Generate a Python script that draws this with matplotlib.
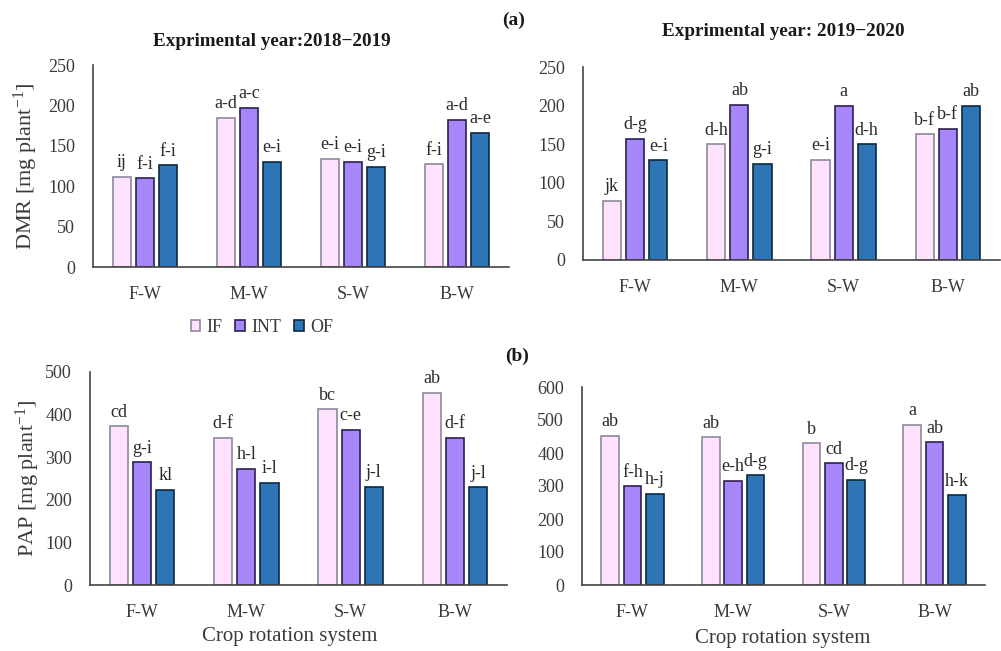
import matplotlib
matplotlib.use("Agg")
import matplotlib.pyplot as plt
from matplotlib.patches import Patch
import numpy as np

plt.rcParams['font.family'] = ['Liberation Serif', 'DejaVu Serif']
plt.rcParams['mathtext.fontset'] = 'custom'
plt.rcParams['mathtext.rm'] = 'Liberation Serif'
plt.rcParams['mathtext.it'] = 'Liberation Serif:italic'

W, H = 1001, 651

rotations = ["F-W", "M-W", "S-W", "B-W"]
treatments = ["IF", "INT", "OF"]

# Dry matter remobilization (DMR), mg plant-1
dmr_2018_if = [112, 185, 134, 127]
dmr_2018_int = [110, 197, 130, 182]
dmr_2018_of = [126, 130, 124, 166]
dmr_2018_letters = [["ij", "f-i", "f-i"], ["a-d", "a-c", "e-i"],
                    ["e-i", "e-i", "g-i"], ["f-i", "a-d", "a-e"]]

dmr_2019_if = [77, 150, 130, 163]
dmr_2019_int = [157, 201, 200, 170]
dmr_2019_of = [129, 125, 150, 200]
dmr_2019_letters = [["jk", "d-g", "e-i"], ["d-h", "ab", "g-i"],
                    ["e-i", "a", "d-h"], ["b-f", "b-f", "ab"]]

# Post-anthesis photosynthate (PAP), mg plant-1
pap_2018_if = [373, 345, 412, 451]
pap_2018_int = [288, 273, 365, 346]
pap_2018_of = [223, 240, 231, 229]
pap_2018_letters = [["cd", "g-i", "kl"], ["d-f", "h-l", "i-l"],
                    ["bc", "c-e", "j-l"], ["ab", "d-f", "j-l"]]

pap_2019_if = [453, 448, 429, 486]
pap_2019_int = [299, 316, 369, 432]
pap_2019_of = [276, 333, 319, 272]
pap_2019_letters = [["ab", "f-h", "h-j"], ["ab", "e-h", "d-g"],
                    ["b", "cd", "d-g"], ["a", "ab", "h-k"]]

fills = ["#FFE2FD", "#A686F8", "#2E75B6"]
edges = ["#8C8A9C", "#2B2150", "#0D2940"]
ink = "#3A3A3A"

fig = plt.figure(figsize=(W / 100, H / 100), dpi=100)


def px_axes(x0, y_top, x1, y_bot):
    return fig.add_axes([x0 / W, 1 - y_bot / H, (x1 - x0) / W, (y_bot - y_top) / H])


def panel(ax, series, letters, ymax, step):
    x = np.arange(len(rotations))
    width = 0.175
    offsets = [-0.222, 0.0, 0.222]
    for k, vals in enumerate(series):
        bars = ax.bar(x + offsets[k], vals, width, color=fills[k],
                      edgecolor=edges[k], linewidth=1.2, zorder=2)
        for i, b in enumerate(bars):
            ax.annotate(letters[i][k], (b.get_x() + b.get_width() / 2, b.get_height()),
                        xytext=(0, 4), textcoords="offset points",
                        ha="center", va="bottom", fontsize=13, color="#2A2A2A")
    ax.set_xlim(-0.5, 3.5)
    ax.set_ylim(0, ymax)
    ax.set_yticks(np.arange(0, ymax + 1, step))
    ax.set_xticks(x)
    ax.set_xticklabels(rotations)
    for s in ("top", "right"):
        ax.spines[s].set_visible(False)
    for s in ("left", "bottom"):
        ax.spines[s].set_color("#444444")
        ax.spines[s].set_linewidth(1.2)
    ax.tick_params(axis="both", length=0, labelsize=13, colors=ink)
    ax.tick_params(axis="y", pad=13)
    ax.tick_params(axis="x", pad=14)
    ax.patch.set_alpha(0)


ax1 = px_axes(93, 65, 509, 267)
panel(ax1, [dmr_2018_if, dmr_2018_int, dmr_2018_of], dmr_2018_letters, 250, 50)

ax2 = px_axes(583, 67, 1000, 260)
panel(ax2, [dmr_2019_if, dmr_2019_int, dmr_2019_of], dmr_2019_letters, 250, 50)

ax3 = px_axes(90, 372, 507, 585)
panel(ax3, [pap_2018_if, pap_2018_int, pap_2018_of], pap_2018_letters, 500, 100)

ax4 = px_axes(582, 387, 985, 585)
panel(ax4, [pap_2019_if, pap_2019_int, pap_2019_of], pap_2019_letters, 600, 100)


def ftext(x, y, s, **kw):
    return fig.text(x / W, 1 - y / H, s, **kw)


ftext(272, 41, "Exprimental year:2018\u22122019", ha="center", va="center",
      fontsize=13.8, fontweight="bold", color="#1A1A1A")
ftext(783, 32, "Exprimental year: 2019\u22122020", ha="center", va="center",
      fontsize=13.8, fontweight="bold", color="#1A1A1A")
ftext(514, 20, "(a)", ha="center", va="center", fontsize=14, fontweight="bold", color="#1A1A1A")
ftext(517, 356, "(b)", ha="center", va="center", fontsize=14, fontweight="bold", color="#1A1A1A")

ftext(26, 166, "DMR [mg plant$^{\\mathregular{-1}}$]", ha="center", va="center", rotation=90,
      fontsize=16, color=ink)
ftext(28, 478, "PAP [mg plant$^{\\mathregular{-1}}$]", ha="center", va="center", rotation=90,
      fontsize=16, color=ink)

ftext(290, 637, "Crop rotation system", ha="center", va="center", fontsize=15, color=ink)
ftext(783, 638, "Crop rotation system", ha="center", va="center", fontsize=15, color=ink)

handles = [Patch(facecolor=fills[k], edgecolor=edges[k], linewidth=1.2, label=treatments[k])
           for k in range(3)]
fig.legend(handles=handles, loc="center", bbox_to_anchor=(262 / W, 1 - 327 / H), ncol=3,
           frameon=False, fontsize=13, handlelength=0.55, handleheight=0.55,
           handletextpad=0.35, columnspacing=0.7, labelcolor=ink)

fig.savefig("out.png", dpi=100)
